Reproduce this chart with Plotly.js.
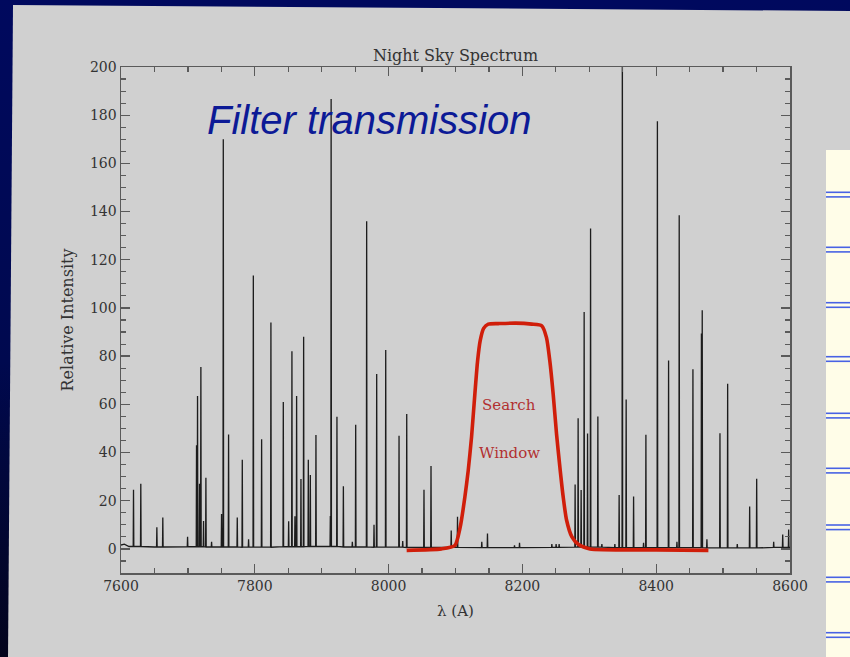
<!DOCTYPE html>
<html><head><meta charset="utf-8">
<script src="https://cdn.plot.ly/plotly-3.0.1.min.js"></script>
<style>
html,body{margin:0;padding:0;width:850px;height:657px;overflow:hidden;
background:linear-gradient(to bottom,#00095e 0%,#00094f 55%,#03041c 100%);}
#chart{width:850px;height:657px;}
</style>
</head><body><div id="chart"></div>
<script>
// ---- data ----
const lineWave = [7618.7,7629.6,7653.6,7662.5,7699.5,7712.9,7714.4,7717.4,7719.4,7723.4,7726.9,7735.4,
  7750.3,7752.9,7760.8,7773.8,7781.3,7790.7,7797.8,7810.2,7824.1,7842.6,7850.6,7855.5,7860.0,7862.5,
  7869.0,7873.0,7880.0,7883.0,7891.4,7912.9,7914.1,7922.8,7932.4,7945.8,7950.8,7967.2,7978.2,7982.2,
  7995.7,8015.6,8021.1,8027.1,8052.9,8063.4,8093.6,8103.0,8139.3,8147.8,8188.2,8195.7,8244.0,8250.4,
  8254.9,8278.8,8283.3,8287.8,8292.3,8297.4,8301.9,8312.8,8318.8,8338.2,8344.6,8349.4,8355.1,8366.2,
  8381.1,8384.6,8401.8,8418.5,8431.0,8434.4,8454.9,8467.6,8468.8,8475.8,8495.3,8506.8,8521.2,8539.7,
  8550.2,8575.6,8589.1,8598.0];
const lineHeight = [24.5,27,9,13,5,43,63.5,27,75.5,11.6,29.5,3,
  14.5,170,47.5,13,37,4,113.5,45.5,94,61,11.5,82,13.6,63.5,
  29,88,37,30.7,47.3,13.7,186.7,54.8,26,3,51.5,136,10,72.6,
  82.6,47,3.3,56,24.6,34.4,7.6,13.3,3,6.4,1.5,2.5,2,2,
  2,26.7,54.2,24.4,98.3,47.9,133,55,2,2,22.4,230,62,21.7,
  2.5,47.4,177.5,78.2,3,138.5,74.6,89.4,99,4,48,68.5,2,17.6,
  29.1,3,6,8];
const baselineWave  = [7600,7605,7612,7650,7700,7750,7800,7850,7900,7950,8000,8050,8100,8150,8200,8250,8300,8350,8400,8450,8500,8550,8600];
const baselineLevel = [1.6,2.0,1.0,0.8,0.9,0.8,0.7,0.9,1.0,0.8,0.7,0.6,0.6,0.5,0.5,0.6,0.7,0.5,0.5,0.5,0.4,0.4,0.6];
const filterWave  = [8027,8079,8099,8107,8114,8119,8124,8129,8133,8137,8142,8149,8164,8190,8214,8229,8236,8241,8246,8251,8256,8261,8266,8274,8284,8301,8400,8478];
const filterTrans = [-0.6,0,1.4,9,21.5,32.5,46.5,64.5,78,86.5,91.5,93.3,93.5,93.7,93.3,92.6,87.7,78,64.3,47.7,34,21.5,12,5,1.8,0,-0.4,-0.6];
const xTickVals = [7600,7800,8000,8200,8400,8600];
const yTickVals = [0,20,40,60,80,100,120,140,160,180,200];
const chartTitle = 'Night Sky Spectrum';
const xTitle = 'λ (A)';
const yTitle = 'Relative Intensity';
const slideText = 'Filter transmission';
const label1 = 'Search', label2 = 'Window';

// ---- build the spectrum trace from the arrays ----
function baseAt(w){
  let best = 0, d = Infinity;
  baselineWave.forEach((b,i)=>{ if(Math.abs(b-w)<d){d=Math.abs(b-w);best=i;} });
  return baselineLevel[best];
}
const pts = [];
baselineWave.forEach((w,i)=>{
  if(!lineWave.some(l=>Math.abs(l-w)<1)) pts.push([w, baselineLevel[i]]);
});
lineWave.forEach((w,i)=>{
  const b = baseAt(w);
  pts.push([w-0.45,b],[w,lineHeight[i]],[w+0.45,b]);
});
pts.sort((a,b)=>a[0]-b[0]);

const spectrum = {
  type:'scatter', mode:'lines',
  x: pts.map(p=>p[0]), y: pts.map(p=>p[1]),
  line:{color:'#1c1c1c', width:1.3},
  hoverinfo:'skip', showlegend:false
};
const filter = {
  type:'scatter', mode:'lines',
  x: filterWave, y: filterTrans,
  line:{color:'#d01e0a', width:3.6, shape:'spline', smoothing:0.6},
  hoverinfo:'skip', showlegend:false
};

// ---- layout geometry (pixels -> paper) ----
const M = {l:121, r:60, t:67, b:84};
const PW = 850-M.l-M.r, PH = 657-M.t-M.b;
const xp = px => (px-M.l)/PW;
const yp = py => (657-M.b-py)/PH;

const shapes = [];
// grey slide panel
shapes.push({type:'path', xref:'paper', yref:'paper', layer:'below',
  path:`M ${xp(13)} ${yp(5)} L ${xp(850)} ${yp(11)} L ${xp(850)} ${yp(657)} L ${xp(8)} ${yp(657)} Z`,
  fillcolor:'#d0d0d0', line:{width:0}});
// cream side panel
shapes.push({type:'rect', xref:'paper', yref:'paper', layer:'below',
  x0:xp(826), x1:xp(851), y0:yp(150), y1:yp(658), fillcolor:'#fffde8', line:{width:0}});
[192.3,247.3,302.7,356.7,413.3,468.3,525,577.3,632.7].forEach(y=>{
  [y, y+4.6].forEach(yy=>shapes.push({type:'line', xref:'paper', yref:'paper', layer:'below',
    x0:xp(826), x1:xp(851), y0:yp(yy), y1:yp(yy), line:{color:'#4862e4', width:1.6}}));
});

const serif = 'DejaVu Serif, serif';
const axisCommon = {
  showline:true, linecolor:'#5a5a5a', linewidth:1.5, mirror:'ticks',
  ticks:'inside', ticklen:9, tickwidth:1.3, tickcolor:'#5a5a5a',
  showgrid:false, zeroline:false, tickmode:'array',
  tickfont:{family:serif, size:14, color:'#333'}
};

const layout = {
  width:850, height:657, margin:M,
  paper_bgcolor:'rgba(0,0,0,0)', plot_bgcolor:'rgba(0,0,0,0)',
  title:{text:chartTitle, font:{family:serif, size:16, color:'#333'},
    xref:'paper', x:0.5, xanchor:'center', yref:'container', y:1-55/657, yanchor:'middle'},
  xaxis:Object.assign({}, axisCommon, {range:[7600,8600], tickvals:xTickVals,
    minor:{tick0:7600, dtick:50, ticks:'inside', ticklen:5, tickwidth:1.2, tickcolor:'#5a5a5a', showgrid:false},
    title:{text:xTitle, font:{family:serif, size:15, color:'#333'}, standoff:12}}),
  yaxis:Object.assign({}, axisCommon, {range:[-10,200], tickvals:yTickVals,
    minor:{tick0:0, dtick:5, ticks:'inside', ticklen:5, tickwidth:1.2, tickcolor:'#5a5a5a', showgrid:false},
    title:{text:yTitle, font:{family:serif, size:16, color:'#333'}, standoff:12}}),
  shapes:shapes,
  annotations:[
    {xref:'paper', yref:'paper', x:xp(205), y:yp(120), xanchor:'left', yanchor:'middle',
     text:'<i>'+slideText+'</i>', showarrow:false,
     font:{family:'Liberation Sans, Arial, sans-serif', size:40, color:'#0c1a96'}},
    {xref:'x', yref:'y', x:8180, y:59.7, text:label1, showarrow:false,
     font:{family:serif, size:15, color:'#b23030'}},
    {xref:'x', yref:'y', x:8181, y:39.7, text:label2, showarrow:false,
     font:{family:serif, size:15, color:'#b23030'}}
  ]
};

Plotly.newPlot('chart', [spectrum, filter], layout, {staticPlot:true, displayModeBar:false});
</script>
</body></html>
